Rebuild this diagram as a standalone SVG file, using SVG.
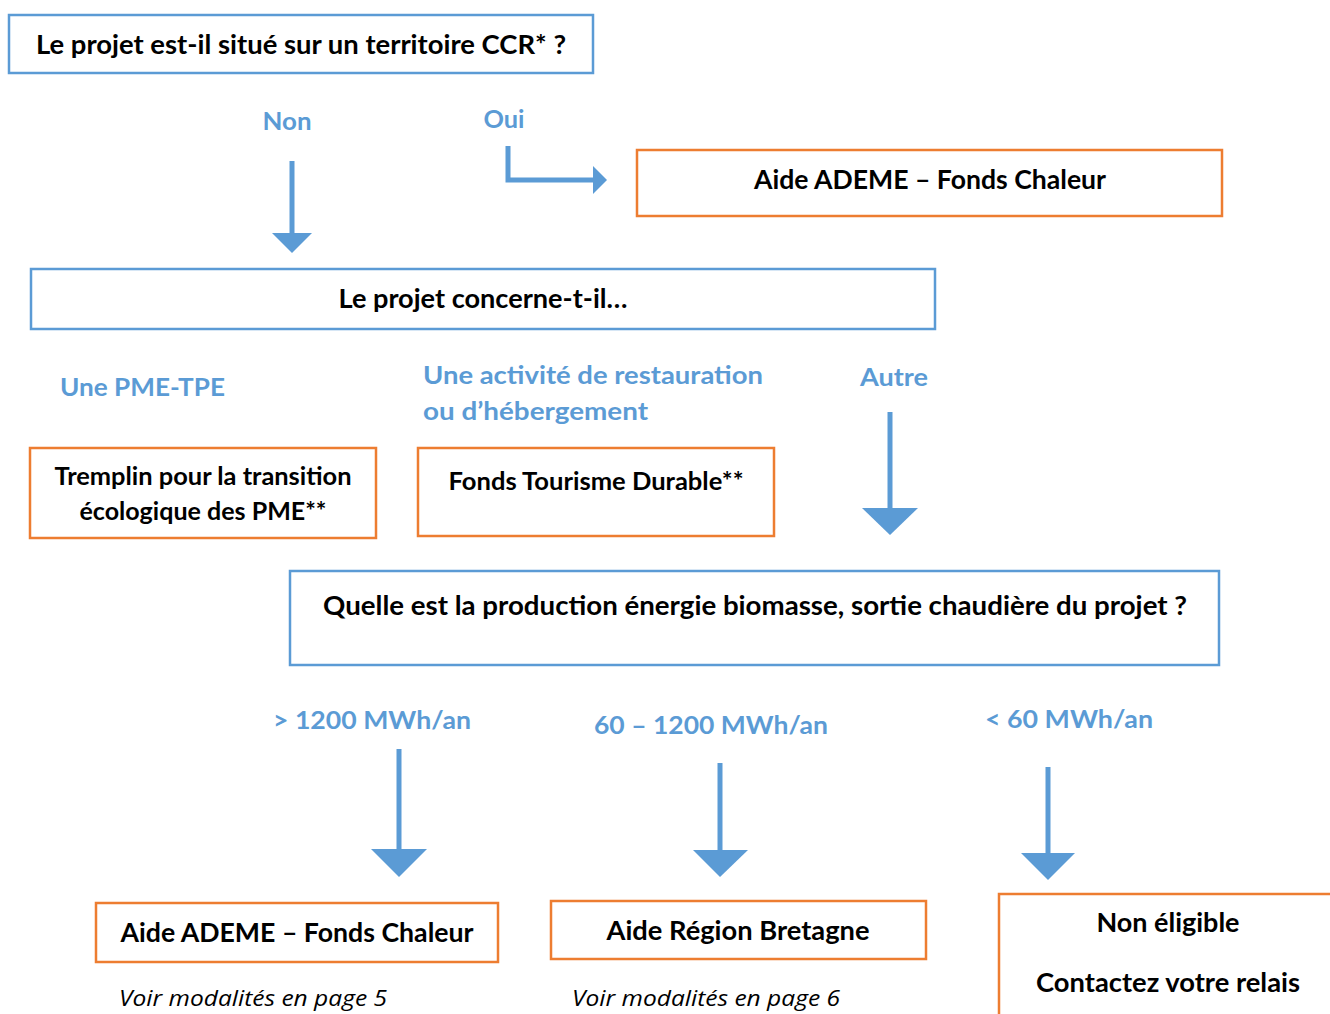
<svg xmlns="http://www.w3.org/2000/svg" width="1330" height="1014" viewBox="0 0 1330 1014">
<style>
.bg{fill:#ffffff}
.qbox{fill:#ffffff;stroke:#5B9BD5;stroke-width:2.5}
.abox{fill:#ffffff;stroke:#ED7D31;stroke-width:2.5}
.t{font-family:Lato,"Liberation Sans",sans-serif;font-weight:bold;fill:#000000;font-size:26px}
.tc{text-anchor:middle}
.lbl{font-family:Lato,"Liberation Sans",sans-serif;font-weight:bold;fill:#5B9BD5;font-size:25px}
.note{font-family:"Open Sans","Liberation Sans",sans-serif;font-style:italic;fill:#000000;font-size:22px}
.ln{stroke:#5B9BD5;stroke-width:5;fill:none}
.hd{fill:#5B9BD5}
</style>
<rect class="bg" x="0" y="0" width="1330" height="1014"/>
<g id="connectors">
<line class="ln" x1="292" y1="161" x2="292" y2="235"/>
<polygon class="hd" points="272,233 312,233 292,253"/>
<polyline class="ln" points="508,146 508,180 595,180"/>
<polygon class="hd" points="593,166 593,194 607,180"/>
<line class="ln" x1="890" y1="412" x2="890" y2="510"/>
<polygon class="hd" points="862,508 918,508 890,535"/>
<line class="ln" x1="399" y1="749" x2="399" y2="851"/>
<polygon class="hd" points="371,849 427,849 399,877"/>
<line class="ln" x1="720" y1="763" x2="720" y2="852"/>
<polygon class="hd" points="693,850 748,850 720,877"/>
<line class="ln" x1="1048" y1="767" x2="1048" y2="855"/>
<polygon class="hd" points="1021,853 1075,853 1048,880"/>
</g>
<g id="q1"><rect class="qbox" x="9" y="15" width="584" height="58"/><text class="t tc" x="301" y="54" textLength="530" lengthAdjust="spacingAndGlyphs">Le projet est-il situé sur un territoire CCR* ?</text></g>
<g id="lbl-non"><text class="lbl tc" x="287" y="130" textLength="49" lengthAdjust="spacingAndGlyphs">Non</text></g>
<g id="lbl-oui"><text class="lbl tc" x="504" y="128" textLength="41" lengthAdjust="spacingAndGlyphs">Oui</text></g>
<g id="ademe1"><rect class="abox" x="637" y="150" width="585" height="66"/><text class="t tc" x="930" y="189" textLength="352" lengthAdjust="spacingAndGlyphs">Aide ADEME – Fonds Chaleur</text></g>
<g id="q2"><rect class="qbox" x="31" y="269" width="904" height="60"/><text class="t tc" x="483" y="308" textLength="289" lengthAdjust="spacingAndGlyphs">Le projet concerne-t-il…</text></g>
<g id="lbl-pme"><text class="lbl" x="60" y="396" textLength="165" lengthAdjust="spacingAndGlyphs">Une PME-TPE</text></g>
<g id="lbl-resto"><text class="lbl" x="423" y="384" textLength="340" lengthAdjust="spacingAndGlyphs">Une activité de restauration</text><text class="lbl" x="423" y="420" textLength="225" lengthAdjust="spacingAndGlyphs">ou d’hébergement</text></g>
<g id="lbl-autre"><text class="lbl" x="860" y="386" textLength="68" lengthAdjust="spacingAndGlyphs">Autre</text></g>
<g id="tremplin"><rect class="abox" x="30" y="448" width="346" height="90"/><text class="t tc" x="203" y="485" style="font-size:24px" textLength="297" lengthAdjust="spacingAndGlyphs">Tremplin pour la transition</text><text class="t tc" x="203" y="520" style="font-size:24px" textLength="247" lengthAdjust="spacingAndGlyphs">écologique des PME**</text></g>
<g id="tourisme"><rect class="abox" x="418" y="448" width="356" height="88"/><text class="t tc" x="596" y="490" style="font-size:24px" textLength="295" lengthAdjust="spacingAndGlyphs">Fonds Tourisme Durable**</text></g>
<g id="q3"><rect class="qbox" x="290" y="571" width="929" height="94"/><text class="t tc" x="755" y="615" textLength="864" lengthAdjust="spacingAndGlyphs">Quelle est la production énergie biomasse, sortie chaudière du projet ?</text></g>
<g id="lbl-1200"><text class="lbl" x="273" y="729" textLength="198" lengthAdjust="spacingAndGlyphs">&gt; 1200 MWh/an</text></g>
<g id="lbl-60-1200"><text class="lbl" x="594" y="734" textLength="234" lengthAdjust="spacingAndGlyphs">60 – 1200 MWh/an</text></g>
<g id="lbl-60"><text class="lbl" x="985" y="728" textLength="168" lengthAdjust="spacingAndGlyphs">&lt; 60 MWh/an</text></g>
<g id="ademe2"><rect class="abox" x="96" y="903" width="402" height="59"/><text class="t tc" x="297" y="942" textLength="353" lengthAdjust="spacingAndGlyphs">Aide ADEME – Fonds Chaleur</text><text class="note" x="119" y="1006" textLength="268" lengthAdjust="spacingAndGlyphs">Voir modalités en page 5</text></g>
<g id="region"><rect class="abox" x="551" y="901" width="375" height="58"/><text class="t tc" x="738" y="940" textLength="263" lengthAdjust="spacingAndGlyphs">Aide Région Bretagne</text><text class="note" x="572" y="1006" textLength="268" lengthAdjust="spacingAndGlyphs">Voir modalités en page 6</text></g>
<g id="noneligible"><rect class="abox" x="999" y="894" width="345" height="140"/><text class="t tc" x="1168" y="932" textLength="143" lengthAdjust="spacingAndGlyphs">Non éligible</text><text class="t tc" x="1168" y="992" textLength="264" lengthAdjust="spacingAndGlyphs">Contactez votre relais</text></g>
</svg>
